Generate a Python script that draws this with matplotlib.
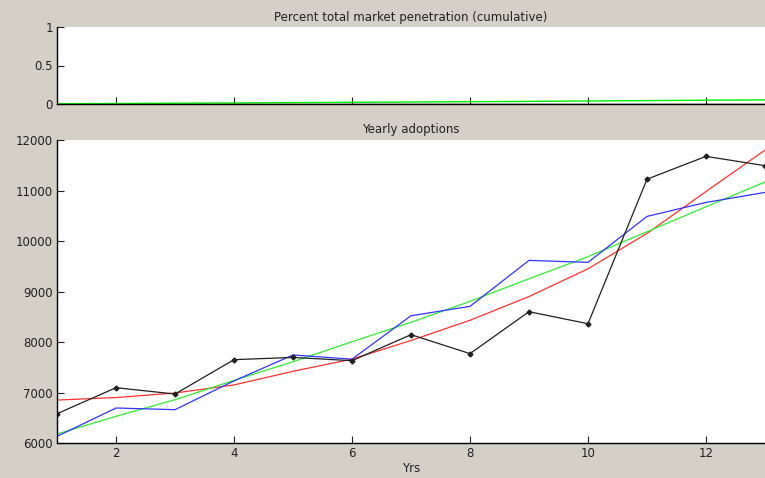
import matplotlib
matplotlib.use("Agg")
import matplotlib.pyplot as plt

years = [1, 2, 3, 4, 5, 6, 7, 8, 9, 10, 11, 12, 13]
actual = [6580, 7095, 6970, 7650, 7695, 7630, 8145, 7770, 8600, 8362, 11224, 11676, 11491]
model_blue = [6131, 6693, 6660, 7230, 7743, 7660, 8520, 8706, 9616, 9577, 10487, 10764, 10962]
fit_red = [6850, 6900, 6990, 7150, 7420, 7660, 8030, 8430, 8900, 9450, 10150, 10980, 11800]
fit_green = [6178, 6528, 6857, 7240, 7610, 8006, 8390, 8804, 9253, 9690, 10184, 10679, 11168]
penetration = [0.003, 0.006, 0.010, 0.014, 0.018, 0.022, 0.026, 0.030, 0.034, 0.039, 0.044, 0.049, 0.054]
penetration_base = [0, 0, 0, 0, 0, 0, 0, 0, 0, 0, 0, 0, 0]

top_title = "Percent total market penetration (cumulative)"
bottom_title = "Yearly adoptions"
xlabel = "Yrs"
top_yticks = [0, 0.5, 1]
top_yticklabels = ["0", "0.5", "1"]
bottom_yticks = [6000, 7000, 8000, 9000, 10000, 11000, 12000]
xticks = [2, 4, 6, 8, 10, 12]

BG = "#d4d0c8"
W, H = 765, 478
fig = plt.figure(figsize=(W / 100, H / 100), dpi=100, facecolor=BG)

ax1 = fig.add_axes([57 / W, 1 - 104 / H, 708 / W, 77 / H])
ax2 = fig.add_axes([57 / W, 1 - 443 / H, 708 / W, 303 / H])

for ax in (ax1, ax2):
    ax.set_facecolor("white")
    ax.spines["top"].set_visible(False)
    ax.spines["right"].set_visible(False)
    ax.spines["left"].set_linewidth(1.0)
    ax.spines["bottom"].set_linewidth(1.0)
    ax.tick_params(direction="in", length=5, width=0.8, labelsize=8.5,
                   colors="#202020", pad=3)
    ax.set_xlim(1, 13)
    ax.set_xticks(xticks)

# Top axes
ax1.plot(years, penetration_base, color="black", lw=1.0)
ax1.plot(years, penetration, color="#00ee00", lw=1.0)
ax1.set_ylim(0, 1)
ax1.set_yticks(top_yticks)
ax1.set_yticklabels(top_yticklabels)
ax1.set_xticklabels([])
fig.text(411 / W, 1 - 17 / H, top_title, ha="center", va="center",
         fontsize=8.5, color="#202020")

# Bottom axes
ax2.plot(years, fit_red, color="#ff3030", lw=0.9)
ax2.plot(years, fit_green, color="#30ee30", lw=0.9)
ax2.plot(years, model_blue, color="#3333ff", lw=0.9)
ax2.plot(years, actual, color="#202020", lw=0.9, marker="D", ms=2.5)
ax2.set_ylim(6000, 12000)
ax2.set_yticks(bottom_yticks)
ax2.set_xticklabels([str(t) for t in xticks])
fig.text(411 / W, 1 - 130 / H, bottom_title, ha="center", va="center",
         fontsize=8.5, color="#202020")
fig.text(411 / W, 1 - 468 / H, xlabel, ha="center", va="center",
         fontsize=8.5, color="#202020")

for ax in (ax1, ax2):
    for sp in ax.spines.values():
        sp.set_clip_on(False)

fig.savefig("out.png", dpi=100, facecolor=BG)
